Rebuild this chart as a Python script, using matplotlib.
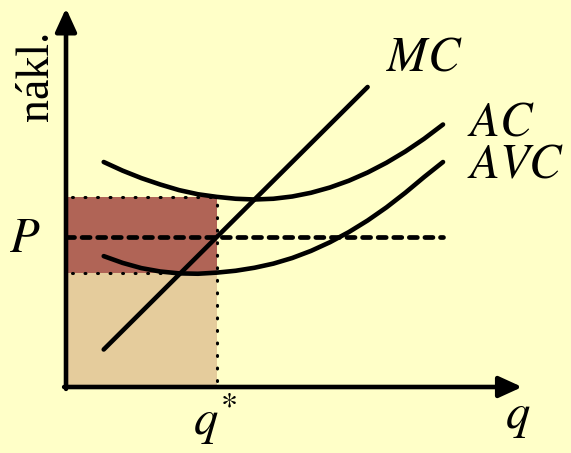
import matplotlib
matplotlib.use("Agg")
import matplotlib.pyplot as plt

plt.rcParams['mathtext.fontset'] = 'stix'

# --- data (economic units) ---
q = [1.0, 1.5, 2.0, 2.5, 3.0, 3.5, 4.0, 4.5, 5.0, 5.5, 6.0, 6.5, 7.0, 7.5, 8.0, 8.5, 9.0, 9.5, 10.0]
ac = [6.0, 5.77, 5.57, 5.40, 5.25, 5.14, 5.07, 5.02, 5.00, 5.02, 5.08, 5.18, 5.32, 5.50, 5.72, 5.98, 6.28, 6.62, 7.0]
avc = [3.49, 3.31, 3.17, 3.08, 3.03, 3.02, 3.05, 3.10, 3.18, 3.29, 3.44, 3.63, 3.86, 4.13, 4.44, 4.79, 5.18, 5.60, 6.0]
mc_q = [1.0, 8.0]
mc = [1.0, 8.0]
price = 4.0
q_star = 4.0
ac_at_qstar = 5.07
avc_at_qstar = 3.05
p_line_end = 10.0

labels = {'MC': r'$MC$', 'AC': r'$AC$', 'AVC': r'$AVC$', 'P': r'$P$', 'qs': r'$q^{*}$', 'q': r'$q$'}
ylabel = 'nákl.'

bg = '#FFFFC8'
dark = '#B06456'
tan = '#E5CC9C'

fig = plt.figure(figsize=(5.71, 4.53), dpi=100, facecolor=bg)
ax = fig.add_axes([0, 0, 1, 1])
ax.set_facecolor(bg)
ax.set_xlim(-1.751, 13.395)
ax.set_ylim(-1.76, 10.32)
ax.axis('off')

# shaded rectangles
ax.fill_between([0, q_star], 0, avc_at_qstar, color=tan, lw=0, zorder=1)
ax.fill_between([0, q_star], avc_at_qstar, ac_at_qstar, color=dark, lw=0, zorder=1)

# dotted guides
dot = dict(color='k', lw=2.2, linestyle=(0, (0.3, 3.8)), dash_capstyle='round', zorder=2)
ax.plot([0.15, q_star], [ac_at_qstar, ac_at_qstar], **dot)
ax.plot([0.15, q_star], [avc_at_qstar, avc_at_qstar], **dot)
ax.plot([q_star, q_star], [0.15, ac_at_qstar], **dot)

# price line
ax.plot([0, p_line_end], [price, price], color='k', lw=3.4,
        linestyle=(0, (1.7, 1.6)), dash_capstyle='round', zorder=3)

# curves
cw = 3.3
ax.plot(q, ac, color='k', lw=cw, solid_capstyle='round', solid_joinstyle='round', zorder=4)
ax.plot(q, avc, color='k', lw=cw, solid_capstyle='round', solid_joinstyle='round', zorder=4)
ax.plot(mc_q, mc, color='k', lw=cw, solid_capstyle='round', zorder=4)

# axes with arrows
arr = dict(arrowstyle='-|>,head_length=0.7,head_width=0.32', lw=3.3, color='k',
           shrinkA=0, shrinkB=0, mutation_scale=20)
ax.annotate('', xy=(12.1, 0), xytext=(-0.05, 0), arrowprops=arr, zorder=5)
ax.annotate('', xy=(0, 10.1), xytext=(0, -0.05), arrowprops=arr, zorder=5)

# labels
fs = 35
ax.text(8.5, 8.45, labels['MC'], fontsize=fs, ha='left', va='baseline')
ax.text(10.64, 6.72, labels['AC'], fontsize=fs, ha='left', va='baseline')
ax.text(10.64, 5.55, labels['AVC'], fontsize=fs, ha='left', va='baseline')
ax.text(-1.5, 3.6, labels['P'], fontsize=fs, ha='left', va='baseline')
ax.text(3.37, -1.28, labels['qs'], fontsize=fs, ha='left', va='baseline')
ax.text(11.64, -1.09, labels['q'], fontsize=fs, ha='left', va='baseline')
ax.text(-0.77, 8.29, ylabel, fontsize=33, family='Liberation Serif', rotation=90,
        ha='center', va='center')

fig.savefig('out.png', dpi=100, facecolor=bg)
